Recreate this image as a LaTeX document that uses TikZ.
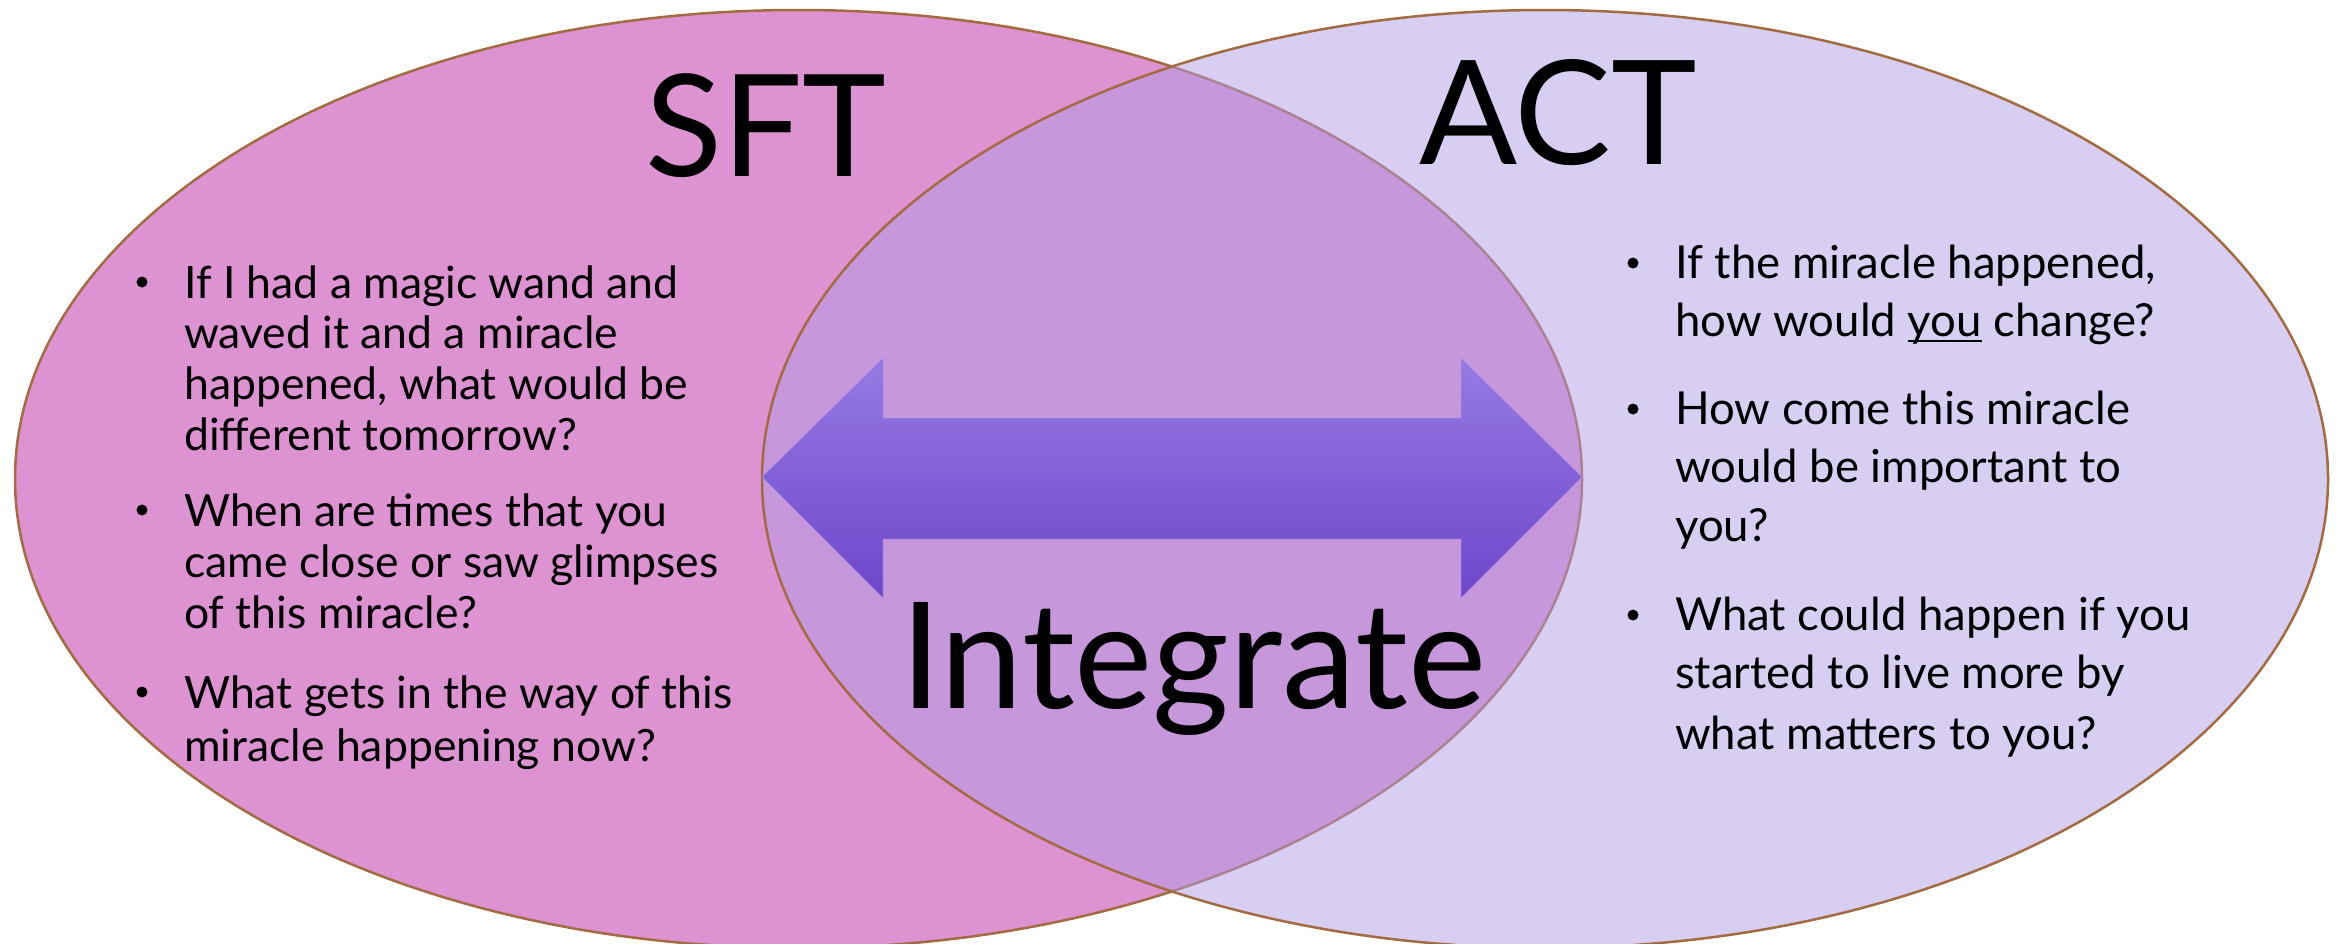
\documentclass[tikz,border=0pt]{standalone}
\usepackage{fontspec}
\setmainfont{Lato}
\definecolor{sftfill}{RGB}{221,146,210}
\definecolor{actfill}{RGB}{177,157,229}
\definecolor{rim}{RGB}{164,106,64}
\definecolor{arrtop}{RGB}{150,122,226}
\definecolor{arrbot}{RGB}{110,70,204}
\newcommand\myul[1]{\setbox0\hbox{#1}\rlap{\rule[-6pt]{\wd0}{2.5pt}}#1}
\tikzset{
  body/.style={font=\fontsize{44.5}{50}\selectfont, anchor=base west, inner sep=0pt},
  bodyr/.style={font=\fontsize{45.5}{50}\selectfont, anchor=base west, inner sep=0pt},
  bigtitle/.style={font=\fontsize{142}{160}\selectfont, anchor=base west, inner sep=0pt},
  bul/.style={circle, fill=black, inner sep=0pt, minimum size=11pt}
}
\begin{document}
\begin{tikzpicture}[x=1pt,y=-1pt]
\useasboundingbox (0,0) rectangle (2339,943);
\clip (0,0) rectangle (2339,943);
% ellipses
\draw[rim, line width=2.5pt, fill=sftfill] (798.5,479) ellipse [x radius=783.5, y radius=469];
\fill[actfill, fill opacity=0.5] (1545,479) ellipse [x radius=783, y radius=469];
\draw[rim, line width=2.5pt] (1545,479) ellipse [x radius=783, y radius=469];
% double arrow
\shade[top color=arrtop, bottom color=arrbot]
  (762,477) -- (883,358) -- (883,418) -- (1461,418) -- (1461,358) -- (1582,477)
  -- (1461,598) -- (1461,539) -- (883,539) -- (883,598) -- cycle;
\draw[color=arrtop!80!white, line width=0.8pt, opacity=0.6]
  (762,477) -- (883,358) -- (883,418) -- (1461,418) -- (1461,358) -- (1582,477)
  -- (1461,598) -- (1461,539) -- (883,539) -- (883,598) -- cycle;
% titles
\node[bigtitle] (sft) at (645,176) {SFT};
\node[bigtitle, font=\fontsize{145}{160}\selectfont] (act) at (1419,164) {ACT};
\node[bigtitle, font=\fontsize{148}{160}\selectfont] (integ) at (900,708) {Integrate};
% left bullets
\node[bul] (lb1) at (142,282) {};
\node[bul] (lb2) at (142,510) {};
\node[bul] (lb3) at (142,692) {};
\node[body] (l1) at (184,298) {If I had a magic wand and};
\node[body] (l2) at (184,348) {waved it and a miracle};
\node[body] (l3) at (184,399) {happened, what would be};
\node[body] (l4) at (184,450) {different tomorrow?};
\node[body] (l5) at (184,526) {When are times that you};
\node[body] (l6) at (184,577) {came close or saw glimpses};
\node[body] (l7) at (184,628) {of this miracle?};
\node[body] (l8) at (184,708) {What gets in the way of this};
\node[body] (l9) at (184,761) {miracle happening now?};
% right bullets
\node[bul] (rb1) at (1633,263) {};
\node[bul] (rb2) at (1633,409) {};
\node[bul] (rb3) at (1633,615) {};
\node[bodyr] (r1) at (1675,278) {If the miracle happened,};
\node[bodyr] (r2) at (1675,336) {how would \myul{you} change?};
\node[bodyr] (r3) at (1675,424) {How come this miracle};
\node[bodyr] (r4) at (1675,482) {would be important to};
\node[bodyr] (r5) at (1675,541) {you?};
\node[bodyr] (r6) at (1675,630) {What could happen if you};
\node[bodyr] (r7) at (1675,688) {started to live more by};
\node[bodyr] (r8) at (1675,749) {what matters to you?};
\end{tikzpicture}
\end{document}
